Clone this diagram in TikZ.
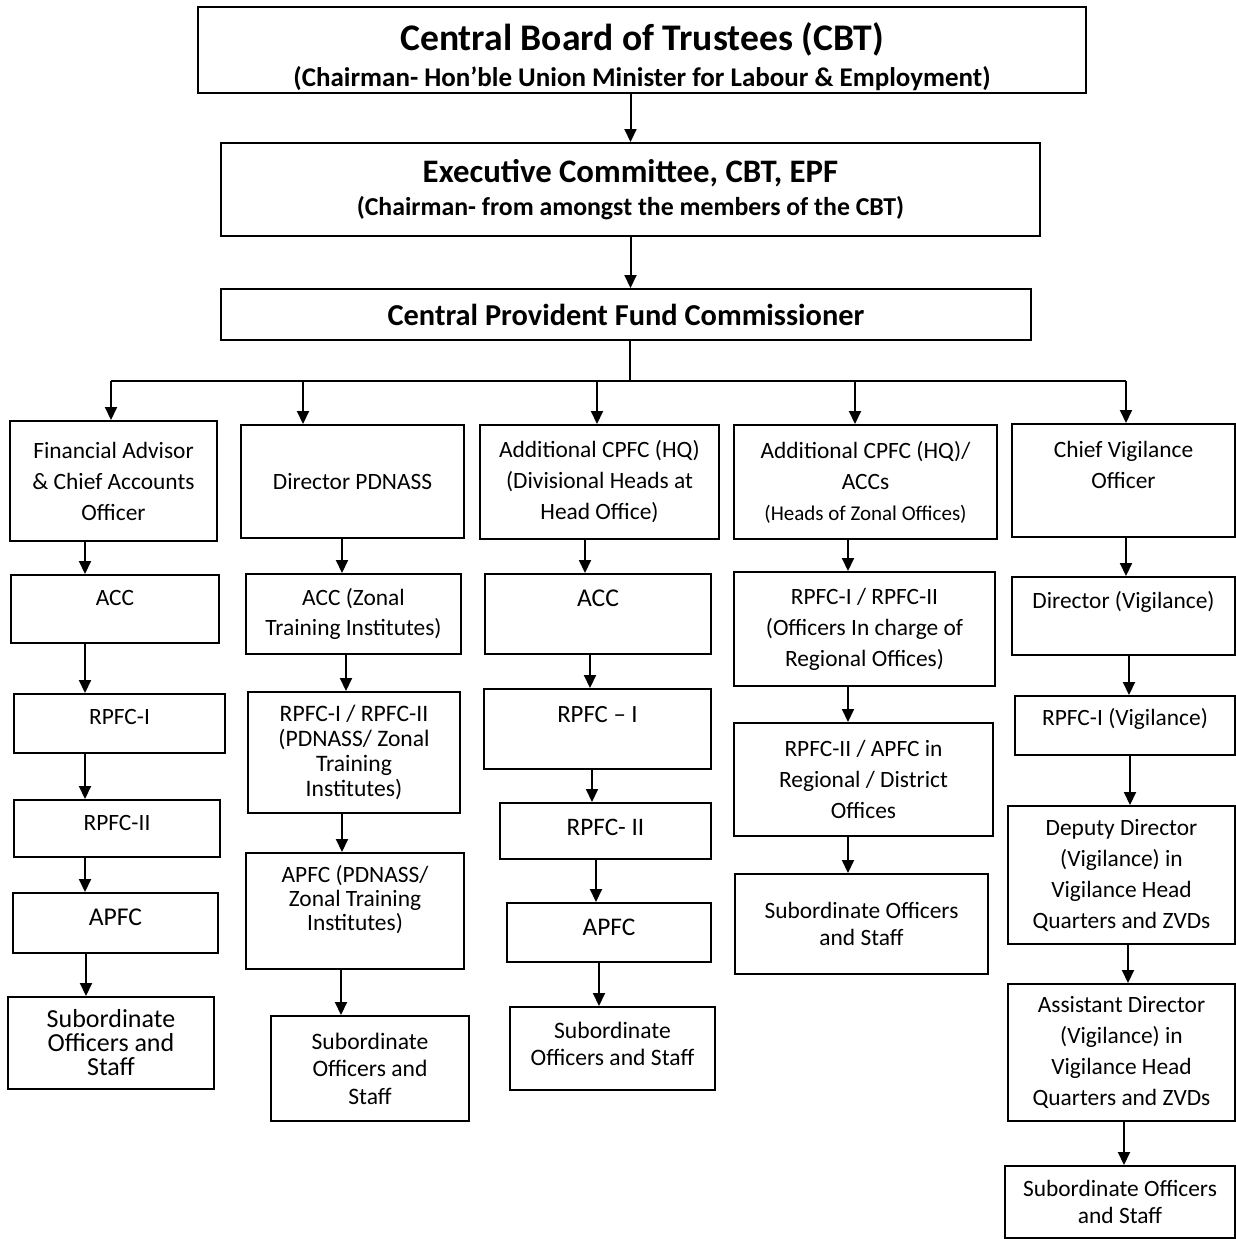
\documentclass[tikz,border=0pt]{standalone}
\usepackage{fontspec}
\setmainfont{Carlito}
\usetikzlibrary{arrows.meta}

\tikzset{
  orgbox/.style 2 args={draw, line width=1pt, minimum width=#1*0.5pt,
    minimum height=#2*0.5pt, inner sep=0pt, align=center},
  fsz/.style 2 args={font=\fontsize{#1}{#2}\selectfont},
  bfsz/.style 2 args={font=\fontsize{#1}{#2}\selectfont\bfseries},
  link/.style={-{Triangle[width=6pt,length=6.5pt]}, line width=1pt},
}

\begin{document}
\begin{tikzpicture}[x=0.5pt, y=-0.5pt, every node/.style={fsz={11.7}{15.5}}]
  \useasboundingbox (0,0) rectangle (1236,1239);

  % top of the chart
  \node[orgbox={888}{86}, bfsz={18.8}{18.15}] (cbt) at (642,50)
    {\mbox{}\\[2.5pt]Central Board of Trustees (CBT)\\{\fontsize{13.5}{16}\selectfont(Chairman- Hon’ble Union Minister for Labour \& Employment)}};
  \node[orgbox={819}{93}, bfsz={16.4}{16.65}] (exec) at (630.5,189.5)
    {Executive Committee, CBT, EPF\\{\fontsize{12.9}{16}\selectfont(Chairman- from amongst the members of the CBT)}};
  \node[orgbox={810}{51}, bfsz={15.2}{18}] (cpfc) at (626,314.5) {Central Provident Fund Commissioner};

  \draw[link] (cbt.south -| exec.north) -- (exec.north);
  \draw[link] (exec.south) -- (cpfc.north -| exec.south);

  % column 1
  \node[orgbox={207}{120}] (fa) at (113.5,481) {Financial Advisor\\\& Chief Accounts\\Officer};
  \node[orgbox={208}{68}] (acc1) at (115,609) {ACC\\[-4.5pt]\mbox{}};
  \node[orgbox={211}{59}] (rpfcI1) at (119.5,723.5) {RPFC-I\\[-8.5pt]\mbox{}};
  \node[orgbox={206}{57}] (rpfcII1) at (117,828.5) {RPFC-II\\[-9.5pt]\mbox{}};
  \node[orgbox={205}{60}, fsz={12.8}{15.5}] (apfc1) at (115.5,923) {APFC\\[-9.5pt]\mbox{}};
  \node[orgbox={206}{92}, fsz={13}{12}] (sub1) at (111,1043) {Subordinate\\Officers and\\Staff};

  % column 2
  \node[orgbox={223}{113}] (dir) at (352.5,481.5) {Director PDNASS};
  \node[orgbox={215}{80}, fsz={11.7}{15}] (accz) at (353.5,614) {ACC (Zonal\\Training Institutes)};
  \node[orgbox={212}{121}, fsz={11.8}{12.5}] (rpfcz) at (354,752.5)
    {RPFC-I / RPFC-II\\(PDNASS/ Zonal\\Training\\Institutes)};
  \node[orgbox={218}{116}, fsz={11.7}{12}] (apfcz) at (355,911)
    {APFC (PDNASS/\\Zonal Training\\Institutes)\\[1.3pt]\mbox{}};
  \node[orgbox={198}{105}, fsz={11.8}{13.75}] (sub2) at (370,1068.5) {Subordinate\\Officers and\\Staff};

  % column 3
  \node[orgbox={239}{114}] (ahq) at (599.5,482) {Additional CPFC (HQ)\\(Divisional Heads at\\Head Office)};
  \node[orgbox={226}{80}, fsz={12.8}{15.5}] (acc3) at (598,614) {ACC\\[0.5pt]\mbox{}};
  \node[orgbox={227}{80}, fsz={12.4}{15.5}] (rpfcI3) at (597.5,729) {RPFC – I\\[-0.5pt]\mbox{}};
  \node[orgbox={211}{56}, fsz={12.6}{15.5}] (rpfcII3) at (605.5,831) {RPFC- II\\[-11.5pt]\mbox{}};
  \node[orgbox={204}{59}, fsz={12.7}{15.5}] (apfc3) at (609,932.5) {APFC\\[-10.5pt]\mbox{}};
  \node[orgbox={205}{83}, fsz={11.8}{13.5}] (sub3) at (612.5,1048.5) {Subordinate\\Officers and Staff\\[-8.5pt]\mbox{}};

  % column 4
  \node[orgbox={263}{114}] (azo) at (865.5,482)
    {Additional CPFC (HQ)/\\ACCs\\{\fontsize{10.5}{15.5}\selectfont(Heads of Zonal Offices)}};
  \node[orgbox={261}{114}] (rpfcro) at (864.5,629) {RPFC-I / RPFC-II\\(Officers In charge of\\Regional Offices)};
  \node[orgbox={259}{113}] (rpfcdo) at (863.5,779.5) {RPFC-II / APFC in\\Regional / District\\Offices};
  \node[orgbox={253}{100}, fsz={11.7}{13.5}] (sub4) at (861.5,924) {Subordinate Officers\\and Staff};

  % column 5
  \node[orgbox={223}{113}] (cvo) at (1123.5,480.5) {Chief Vigilance\\Officer\\[0.5pt]\mbox{}};
  \node[orgbox={223}{78}] (dirv) at (1123.5,616) {Director (Vigilance)\\[0.8pt]\mbox{}};
  \node[orgbox={220}{59}] (rpfcv) at (1125,725.5) {RPFC-I (Vigilance)\\[-7.2pt]\mbox{}};
  \node[orgbox={227}{138}] (ddv) at (1121.5,875) {Deputy Director\\(Vigilance) in\\Vigilance Head\\Quarters and ZVDs};
  \node[orgbox={227}{137}] (adv) at (1121.5,1052.5) {Assistant Director\\(Vigilance) in\\Vigilance Head\\Quarters and ZVDs};
  \node[orgbox={230}{72}, fsz={11.7}{13.5}] (sub5) at (1120,1202) {Subordinate Officers\\and Staff};

  % bus from the commissioner
  \coordinate (bus) at (630,381);
  \coordinate (b1) at (111,381);
  \coordinate (b2) at (303,381);
  \coordinate (b3) at (597,381);
  \coordinate (b4) at (855,381);
  \coordinate (b5) at (1126,381);
  \draw[line width=1pt] (cpfc.south -| bus) -- (bus);
  \draw[line width=1pt] (b1) -- (b5);
  \foreach \c/\n in {b1/fa, b2/dir, b3/ahq, b4/azo, b5/cvo}
    \draw[link] (\c) -- (\n.north -| \c);

  % arrows down each column
  \foreach \from/\to/\x in {fa/acc1/85, acc1/rpfcI1/85, rpfcI1/rpfcII1/85, rpfcII1/apfc1/85, apfc1/sub1/86,
      dir/accz/342, accz/rpfcz/346, rpfcz/apfcz/342, apfcz/sub2/341,
      ahq/acc3/585, acc3/rpfcI3/590, rpfcI3/rpfcII3/592, rpfcII3/apfc3/596, apfc3/sub3/599,
      azo/rpfcro/848, rpfcro/rpfcdo/848, rpfcdo/sub4/848,
      cvo/dirv/1126, dirv/rpfcv/1129, rpfcv/ddv/1130, ddv/adv/1128, adv/sub5/1124}
    \draw[link] (\from.south -| \x,0) -- (\to.north -| \x,0);
\end{tikzpicture}
\end{document}
